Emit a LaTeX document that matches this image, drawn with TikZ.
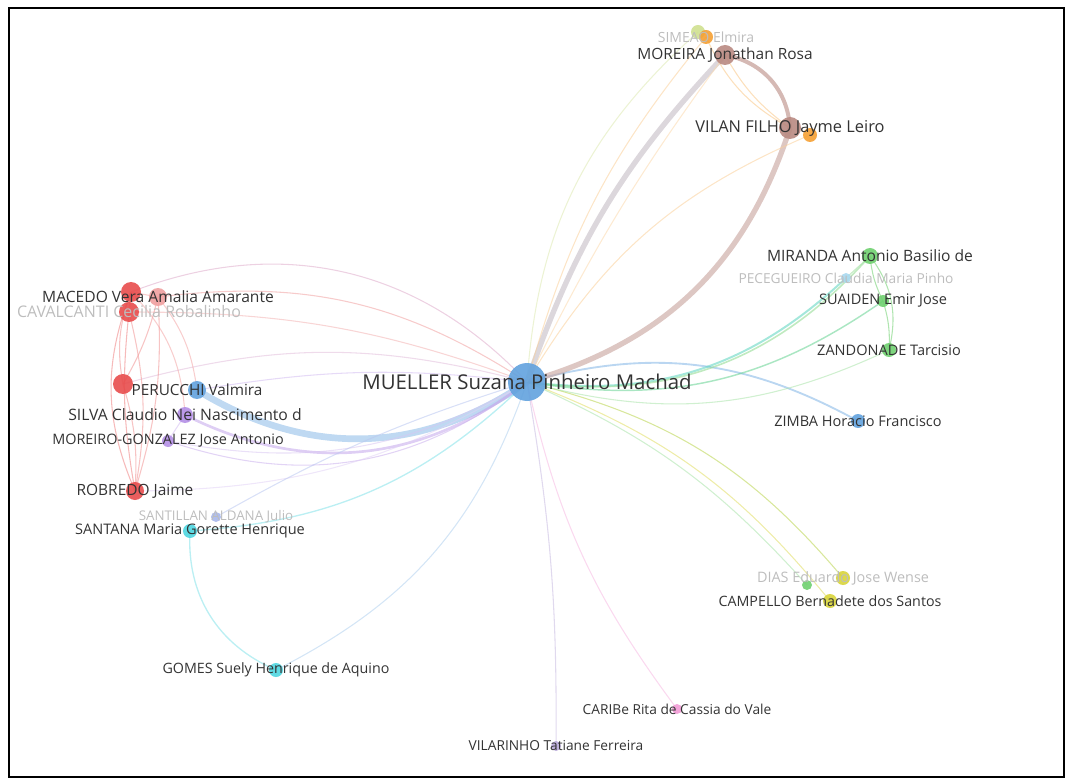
\documentclass[tikz,border=0pt]{standalone}
\usepackage{fontspec}
\setmainfont{Open Sans}
\pgfdeclarelayer{edges}
\pgfsetlayers{edges,main}
\definecolor{cblue}{HTML}{62A2DE}
\definecolor{cbrown}{HTML}{B98A82}
\definecolor{corange}{HTML}{F5A033}
\definecolor{clime}{HTML}{CFE08F}
\definecolor{cgreen}{HTML}{6FD06F}
\definecolor{clblue}{HTML}{A8D8F0}
\definecolor{cyellow}{HTML}{D8D43A}
\definecolor{cpink}{HTML}{F29BD6}
\definecolor{clav}{HTML}{B8A8D8}
\definecolor{ccyan}{HTML}{4FD6E0}
\definecolor{csal}{HTML}{A8B8EC}
\definecolor{cred}{HTML}{E84C4C}
\definecolor{clred}{HTML}{F0A0A0}
\definecolor{cpurple}{HTML}{B48FE6}
\definecolor{labc}{HTML}{333333}
\definecolor{fadec}{HTML}{BDBDBD}
\tikzset{
  dot/.style 2 args={circle,inner sep=0pt,minimum size={#1*1.5pt},fill=#2,fill opacity=0.9},
  lab/.style={text=labc,inner sep=0pt,font=\fontsize{#1}{#1}\selectfont},
  lab/.default=10.9,
  fade/.style={text=fadec,inner sep=0pt,font=\fontsize{#1}{#1}\selectfont},
  fade/.default=10.9,
  ed/.style={draw=#1,draw opacity=0.55,line width=0.8pt},
}
\begin{document}
\begin{tikzpicture}[x=0.75pt,y=0.75pt]
\useasboundingbox (0,0) rectangle (1066,-780);
\draw[line width=1.5pt] (9,-8) rectangle (1064,-777);

% ---------- nodes (circles) ----------
\node[dot={19}{cblue}] (mue) at (527,-382) {};
\node[dot={7}{clime}] (lime) at (698,-32) {};
\node[dot={7}{corange}] (sim) at (706,-37) {};
\node[dot={10}{cbrown}] (mor) at (725,-55) {};
\node[dot={11}{cbrown}] (vfi) at (790,-128) {};
\node[dot={7}{corange}] (or2) at (810,-135) {};
\node[dot={8}{cgreen}] (mir) at (870,-256) {};
\node[dot={5}{clblue}] (pec) at (846,-278) {};
\node[dot={6}{cgreen}] (sua) at (883,-301) {};
\node[dot={7}{cgreen}] (zan) at (889,-350) {};
\node[dot={7}{cblue}] (zim) at (858,-421) {};
\node[dot={5}{cgreen}] (dgr) at (807,-585) {};
\node[dot={7}{cyellow}] (dia) at (843,-578) {};
\node[dot={7}{cyellow}] (cam) at (830,-601) {};
\node[dot={5}{cpink}] (car) at (677,-709) {};
\node[dot={5}{clav}] (vil) at (556,-746) {};
\node[dot={7}{ccyan}] (gom) at (276,-670) {};
\node[dot={7}{ccyan}] (san) at (190,-531) {};
\node[dot={5}{csal}] (sal) at (216,-517) {};
\node[dot={9}{cred}] (rob) at (135,-491) {};
\node[dot={6}{cpurple}] (mgo) at (168,-441) {};
\node[dot={8}{cpurple}] (sil) at (185,-415) {};
\node[dot={9}{cblue}] (per) at (197,-390) {};
\node[dot={10}{cred}] (red4) at (123,-384) {};
\node[dot={10}{cred}] (red1) at (131,-292) {};
\node[dot={9}{clred}] (mac) at (158,-297) {};
\node[dot={10}{cred}] (cav) at (129,-312) {};

% ---------- edges ----------
\begin{pgfonlayer}{edges}
% blue / purple to the left
\draw[ed=cblue!55,line width=5pt,draw opacity=0.75] (mue.center) to[bend left=33] (per.center);
\draw[ed=cpurple!80,line width=2pt] (mue.center) to[bend left=32] (sil.center);
\draw[ed=cpurple!70] (mue.center) to[bend left=28] (mgo.center);
\draw[ed=cpurple!50] (mue.center) to[bend left=20] (mgo.center);
\draw[ed=cpurple!60] (mue.center) to[bend right=8] (per.center);
% red cluster to MUELLER
\draw[ed=cred!40!cpurple!60] (mue.center) to[bend right=34] (red1.center);
\draw[ed=clred] (mue.center) to[bend right=20] (mac.center);
\draw[ed=clred!80] (mue.center) to[bend right=10] (cav.center);
\draw[ed=cred!30!cpurple!50] (mue.center) to[bend right=15] (red4.center);
\draw[ed=cpurple!40] (mue.center) to[bend left=15] (rob.center);
% red cluster internal
\draw[ed=cred!70] (red1.center) to[bend right=22] (rob.center);
\draw[ed=cred!70] (cav.center) to[bend right=8] (rob.center);
\draw[ed=cred!60] (mac.center) to[bend left=10] (rob.center);
\draw[ed=cred!60] (cav.center) to[bend left=12] (rob.center);
\draw[ed=cred!60] (red4.center) to[bend left=10] (rob.center);
\draw[ed=cred!60] (red1.center) to[bend right=15] (red4.center);
\draw[ed=cred!60] (mac.center) to[bend left=8] (red4.center);
\draw[ed=cred!50] (mac.center) to[bend left=15] (per.center);
\draw[ed=cred!50] (red1.center) to[bend left=20] (sil.center);
\draw[ed=cred!60] (red1.center) -- (cav.center);
\draw[ed=cred!50] (red1.center) -- (mac.center);
\draw[ed=cpurple!60] (sil.center) -- (mgo.center);
% cyan / lower left
\draw[ed=ccyan!70,line width=1pt] (mue.center) to[bend left=20] (san.center);
\draw[ed=ccyan!70,line width=1pt] (san.center) to[bend right=35] (gom.center);
\draw[ed=cblue!50] (mue.center) to[bend left=22] (gom.center);
\draw[ed=csal!80] (mue.center) to[bend right=6] (sal.center);
% bottom
\draw[ed=clav!80] (mue.center) to[bend left=5] (vil.center);
\draw[ed=cpink!70] (mue.center) to[bend right=12] (car.center);
\draw[ed=cyellow!80] (mue.center) to[bend left=15] (cam.center);
\draw[ed=cyellow!70!cgreen] (mue.center) to[bend left=18] (dia.center);
\draw[ed=cgreen!60] (mue.center) to[bend left=12] (dgr.center);
% right side
\draw[ed=cblue!80,line width=1.4pt] (mue.center) to[bend left=22] (zim.center);
\draw[ed=cgreen!60] (mue.center) to[bend right=20] (zan.center);
\draw[ed=cgreen!70!ccyan,line width=1.1pt] (mue.center) to[bend right=22] (sua.center);
\draw[ed=ccyan!70!cgreen,line width=1.5pt] (mue.center) to[bend right=25] (pec.center);
\draw[ed=cgreen!80,line width=1.2pt] (mue.center) to[bend right=28] (mir.center);
\draw[ed=cgreen] (mir.center) to[bend right=10] (sua.center);
\draw[ed=cgreen] (mir.center) to[bend left=25] (zan.center);
\draw[ed=cgreen] (sua.center) to[bend left=10] (zan.center);
\draw[ed=cgreen!70] (mir.center) -- (pec.center);
% top
\draw[ed=cblue!30!cbrown!60,line width=4pt,draw opacity=0.6] (mue.center) to[bend left=12] (mor.center);
\draw[ed=cbrown!80,line width=4pt,draw opacity=0.6] (mue.center) to[bend right=28] (vfi.center);
\draw[ed=cbrown,line width=3pt,draw opacity=0.6] (mor.center) to[bend left=38] (vfi.center);
\draw[ed=corange!60] (sim.center) to[bend right=18] (vfi.center);
\draw[ed=corange!60] (mor.center) to[bend right=12] (vfi.center);
\draw[ed=corange!50] (sim.center) to[bend right=12] (mue.center);
\draw[ed=corange!50] (mue.center) to[bend left=18] (or2.center);
\draw[ed=clime!70] (mue.center) to[bend left=22] (lime.center);
\draw[ed=corange!40] (mor.center) to[bend right=5] (mue.center);
\end{pgfonlayer}

% ---------- labels ----------
\node[lab=15.3] (mue-l) at (mue) {MUELLER Suzana Pinheiro Machad};
\node[fade=10.5] (sim-l) at (sim) {SIMEAO Elmira};
\node[lab=11.6] (mor-l) at (mor) {MOREIRA Jonathan Rosa};
\node[lab=12.3] (vfi-l) at (vfi) {VILAN FILHO Jayme Leiro};
\node[lab=11.7] (mir-l) at (mir) {MIRANDA Antonio Basilio de};
\node[fade=10.3] (pec-l) at (pec) {PECEGUEIRO Claudia Maria Pinho};
\node[lab] (sua-l) at (sua) {SUAIDEN Emir Jose};
\node[lab] (zan-l) at (zan) {ZANDONADE Tarcisio};
\node[lab] (zim-l) at (zim) {ZIMBA Horacio Francisco};
\node[fade=10.8] (dia-l) at (dia) {DIAS Eduardo Jose Wense};
\node[lab=10.7] (cam-l) at (cam) {CAMPELLO Bernadete dos Santos};
\node[lab=10.3] (car-l) at (car) {CARIBe Rita de Cassia do Vale};
\node[lab=10.3] (vil-l) at (vil) {VILARINHO Tatiane Ferreira};
\node[lab=10.7] (gom-l) at (gom) {GOMES Suely Henrique de Aquino};
\node[lab] (san-l) at (san) {SANTANA Maria Gorette Henrique};
\node[fade=10] (sal-l) at (sal) {SANTILLAN ALDANA Julio};
\node[lab=11.6] (rob-l) at (rob) {ROBREDO Jaime};
\node[lab=10.8] (mgo-l) at (mgo) {MOREIRO-GONZALEZ Jose Antonio};
\node[lab=11.8] (sil-l) at (sil) {SILVA Claudio Nei Nascimento d};
\node[lab=11.5] (per-l) at (per) {PERUCCHI Valmira};
\node[lab=11.7] (mac-l) at (mac) {MACEDO Vera Amalia Amarante};
\node[fade=12] (cav-l) at (cav) {CAVALCANTI Cecilia Robalinho};
\end{tikzpicture}
\end{document}
